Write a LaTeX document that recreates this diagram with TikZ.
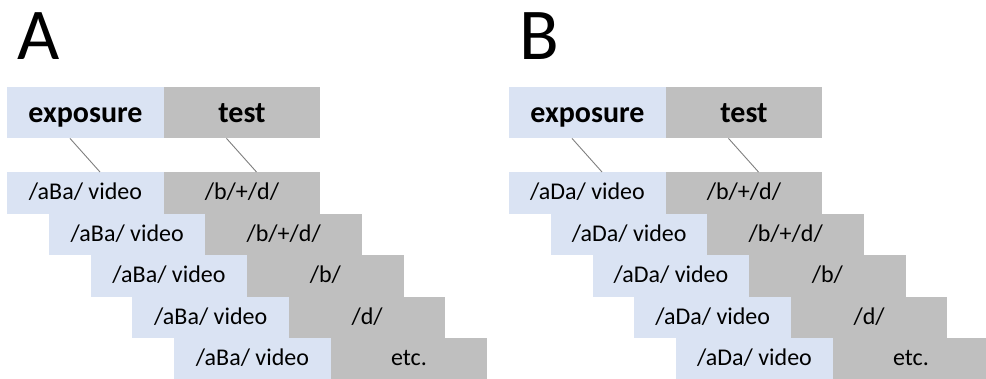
\documentclass[tikz,border=0pt]{standalone}
\usepackage{fontspec}
\setmainfont{Carlito}
\definecolor{expblue}{HTML}{DAE3F3}
\definecolor{testgray}{HTML}{BFBFBF}
\definecolor{linkgray}{HTML}{7F7F7F}
\tikzset{
  cell/.style={minimum width=156.5pt, minimum height=41.7pt, inner sep=0pt, anchor=north west, text height=16pt, text depth=3pt, font=\fontsize{24}{24}\selectfont},
  expcell/.style={cell, fill=expblue},
  testcell/.style={cell, fill=testgray},
  headcell/.style={cell, minimum height=51pt, text height=22pt, text depth=3pt, font=\fontsize{30}{30}\selectfont\bfseries},
  link/.style={draw=linkgray, line width=0.9pt},
  panelletter/.style={inner sep=0pt, anchor=base west, font=\fontsize{73}{73}\selectfont}
}
\newcommand\drawpanel[4]{%
  % #1 x offset, #2 letter, #3 syllable, #4 name prefix
  \node[panelletter] (#4-letter) at (#1+17,60) {#2};
  \node[headcell, fill=expblue] (#4-eh) at (#1+7,87) {exposure};
  \node[headcell, fill=testgray] (#4-th) at (#1+163.5,87) {test};
  \foreach \i/\t in {1/{/b/+/d/},2/{/b/+/d/},3/{/b/},4/{/d/},5/{etc.}}{
    \pgfmathsetmacro\xx{#1+7+41.75*(\i-1)}
    \pgfmathsetmacro\yy{172+41.5*(\i-1)}
    \node[expcell] (#4-e\i) at (\xx,\yy) {/a#3a/ video};
    \node[testcell] (#4-t\i) at (\xx+156.5,\yy) {\t};
  }
  \draw[link] ([xshift=63pt]#4-eh.south west) -- ([xshift=93pt]#4-e1.north west);
  \draw[link] ([xshift=63pt]#4-th.south west) -- ([xshift=93pt]#4-t1.north west);
}
\begin{document}
\begin{tikzpicture}[x=1pt,y=-1pt]
\useasboundingbox (0,0) rectangle (986,379);
\drawpanel{0}{A}{B}{A}
\drawpanel{502}{B}{D}{B}
\end{tikzpicture}
\end{document}
